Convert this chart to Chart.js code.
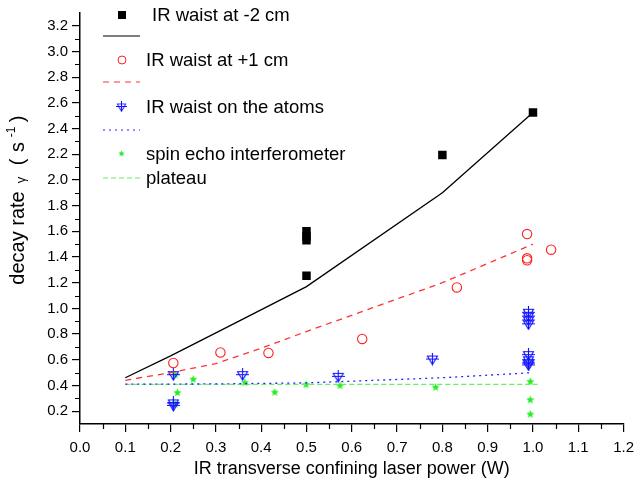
<!DOCTYPE html>
<html>
<head>
<meta charset="utf-8">
<script src="https://cdn.jsdelivr.net/npm/chart.js@4.4.1/dist/chart.umd.min.js"></script>
<style>
  body { margin: 0; background: #fff; }
</style>
</head>
<body>
<canvas id="decayChart" width="641" height="486"></canvas>
<script>
// measured points
const waistM2X = [0.5, 0.5, 0.5, 0.5, 0.8, 1.0];
const waistM2Y = [1.60, 1.56, 1.53, 1.255, 2.195, 2.525];
const waistP1X = [0.206, 0.31, 0.416, 0.623, 0.832, 0.987, 0.987, 0.987, 1.04];
const waistP1Y = [0.575, 0.657, 0.653, 0.762, 1.163, 1.579, 1.39, 1.375, 1.457];
const atomsX = [0.206, 0.206, 0.206, 0.359, 0.57, 0.778, 0.99, 0.99, 0.99, 0.99, 0.99, 0.99, 0.99, 0.99];
const atomsY = [0.484, 0.264, 0.245, 0.484, 0.471, 0.606, 0.97, 0.94, 0.91, 0.88, 0.64, 0.60, 0.575, 0.56];
const echoX = [0.21, 0.215, 0.21, 0.25, 0.364, 0.43, 0.499, 0.574, 0.785, 0.994, 0.994, 0.994];
const echoY = [0.484, 0.346, 0.256, 0.45, 0.424, 0.349, 0.409, 0.401, 0.388, 0.432, 0.29, 0.178];

// model curves
const fitM2X = [0.1, 0.2, 0.3, 0.5, 0.8, 1.0];
const fitM2Y = [0.46, 0.63, 0.81, 1.17, 1.90, 2.525];
const fitP1X = [0.1, 0.2, 0.3, 0.4, 0.5, 0.65, 0.8, 1.0];
const fitP1Y = [0.44, 0.50, 0.57, 0.69, 0.82, 1.01, 1.20, 1.50];
const fitAtomsX = [0.1, 0.3, 0.5, 0.65, 0.8, 1.0];
const fitAtomsY = [0.41, 0.412, 0.42, 0.44, 0.46, 0.50];
const plateauX = [0.1, 1.01];
const plateauY = [0.409, 0.409];

const xTicks = [0, 0.1, 0.2, 0.3, 0.4, 0.5, 0.6, 0.7, 0.8, 0.9, 1.0, 1.1, 1.2];
const yTicks = [0.2, 0.4, 0.6, 0.8, 1.0, 1.2, 1.4, 1.6, 1.8, 2.0, 2.2, 2.4, 2.6, 2.8, 3.0, 3.2];

const FONT = "'Liberation Sans', Arial, sans-serif";

function pts(xs, ys) {
    return xs.map((x, i) => ({ x: x, y: ys[i] }));
}

function makeTriangle() {
    const c = document.createElement('canvas');
    c.width = 13; c.height = 13;
    const g = c.getContext('2d');
    g.strokeStyle = '#1010ff';
    g.lineWidth = 1.1;
    g.beginPath();
    g.moveTo(1.5, 3.5); g.lineTo(11.5, 3.5); g.lineTo(6.5, 12); g.closePath();
    g.moveTo(0, 6.5); g.lineTo(13, 6.5);
    g.moveTo(6.5, 0); g.lineTo(6.5, 12);
    g.stroke();
    return c;
}

function makeStar() {
    const c = document.createElement('canvas');
    c.width = 9; c.height = 9;
    const g = c.getContext('2d');
    g.fillStyle = '#22ee22';
    g.beginPath();
    for (let i = 0; i < 10; i++) {
        const r = i % 2 === 0 ? 4.2 : 1.9;
        const a = -Math.PI / 2 + i * Math.PI / 5;
        g.lineTo(4.5 + r * Math.cos(a), 4.8 + r * Math.sin(a));
    }
    g.closePath();
    g.fill();
    return c;
}

const triImg = makeTriangle();
const starImg = makeStar();

const legendItems = [
    { label: 'IR waist at -2 cm', mark: 'square', y: 15, tx: 152 },
    { line: '#000', dash: [], y: 36 },
    { label: 'IR waist at +1 cm', mark: 'circle', y: 60, tx: 146 },
    { line: '#ff3333', dash: [6, 5], y: 82 },
    { label: 'IR waist on the atoms', mark: 'tri', y: 107, tx: 146 },
    { line: '#2222ff', dash: [2, 4], y: 130 },
    { label: 'spin echo interferometer', mark: 'star', y: 154, tx: 146 },
    { line: '#66ee66', dash: [5, 3], y: 178, label: 'plateau', tx: 146 }
];

// pieces of the rotated y title: text, size, position along the axis, offset across it
const yTitleParts = [
    { t: 'decay rate', size: 20, at: 238, off: 0 },
    { t: '\u03b3', size: 13, at: 180, off: 1 },
    { t: '(', size: 20, at: 162, off: 0 },
    { t: 's', size: 20, at: 147, off: 0 },
    { t: '-1', size: 12, at: 132, off: -9 },
    { t: ')', size: 20, at: 119, off: 0 }
];

const decorations = {
    id: 'decorations',
    afterDraw(chart) {
        const ctx = chart.ctx;
        const xs = chart.scales.x, ys = chart.scales.y;
        const area = chart.chartArea;
        ctx.save();
        // minor ticks
        ctx.strokeStyle = '#000';
        ctx.lineWidth = 1.2;
        ctx.beginPath();
        for (let v = 0.05; v < 1.2; v += 0.1) {
            const px = Math.round(xs.getPixelForValue(v)) + 0.5;
            ctx.moveTo(px, area.bottom); ctx.lineTo(px, area.bottom + 5);
        }
        for (let v = 0.3; v < 3.3; v += 0.2) {
            const py = Math.round(ys.getPixelForValue(v)) + 0.5;
            ctx.moveTo(area.left, py); ctx.lineTo(area.left - 5, py);
        }
        ctx.stroke();

        // y title
        ctx.save();
        ctx.translate(24, 0);
        ctx.rotate(-Math.PI / 2);
        ctx.fillStyle = '#000';
        ctx.textAlign = 'center';
        ctx.textBaseline = 'alphabetic';
        yTitleParts.forEach(p => {
            ctx.font = p.size + 'px ' + FONT;
            ctx.fillText(p.t, -p.at, p.off);
        });
        ctx.restore();

        // legend
        ctx.font = '18.5px ' + FONT;
        ctx.textBaseline = 'middle';
        legendItems.forEach(it => {
            if (it.line) {
                ctx.strokeStyle = it.line;
                ctx.lineWidth = 1.2;
                ctx.setLineDash(it.dash);
                ctx.beginPath();
                ctx.moveTo(103, it.y); ctx.lineTo(140, it.y);
                ctx.stroke();
                ctx.setLineDash([]);
            }
            if (it.mark === 'square') {
                ctx.fillStyle = '#000';
                ctx.fillRect(118, it.y - 4, 8, 8);
            } else if (it.mark === 'circle') {
                ctx.strokeStyle = '#ff2222';
                ctx.lineWidth = 1;
                ctx.beginPath();
                ctx.arc(122, it.y, 4, 0, Math.PI * 2);
                ctx.stroke();
            } else if (it.mark === 'tri') {
                ctx.drawImage(triImg, 116, it.y - 6, 11, 11);
            } else if (it.mark === 'star') {
                ctx.drawImage(starImg, 118, it.y - 4, 7, 7);
            }
            if (it.label) {
                ctx.fillStyle = '#000';
                ctx.fillText(it.label, it.tx, it.y + 1);
            }
        });
        ctx.restore();
    }
};

const lineStyle = { showLine: true, pointRadius: 0, borderWidth: 1.3, fill: false, tension: 0 };

new Chart(document.getElementById('decayChart').getContext('2d'), {
    type: 'scatter',
    data: {
        datasets: [
            Object.assign({ label: 'fit -2 cm', data: pts(fitM2X, fitM2Y), borderColor: '#000' }, lineStyle),
            Object.assign({ label: 'fit +1 cm', data: pts(fitP1X, fitP1Y), borderColor: '#ff3333', borderDash: [6, 5] }, lineStyle),
            Object.assign({ label: 'fit atoms', data: pts(fitAtomsX, fitAtomsY), borderColor: '#2222ff', borderDash: [2, 4] }, lineStyle),
            Object.assign({ label: 'plateau', data: pts(plateauX, plateauY), borderColor: '#66ee66', borderDash: [5, 3] }, lineStyle),
            {
                label: 'IR waist at -2 cm', data: pts(waistM2X, waistM2Y),
                pointStyle: 'rect', pointRadius: 6, backgroundColor: '#000', borderColor: '#000', borderWidth: 0
            },
            {
                label: 'IR waist at +1 cm', data: pts(waistP1X, waistP1Y),
                pointStyle: 'circle', pointRadius: 4.7, backgroundColor: 'rgba(0,0,0,0)', borderColor: '#ff2222', borderWidth: 1.1
            },
            {
                label: 'IR waist on the atoms', data: pts(atomsX, atomsY),
                pointStyle: triImg
            },
            {
                label: 'spin echo interferometer', data: pts(echoX, echoY),
                pointStyle: starImg
            }
        ]
    },
    options: {
        responsive: false,
        animation: false,
        layout: { padding: { left: 0, right: 7, top: 13, bottom: 0 } },
        plugins: { legend: { display: false }, tooltip: { enabled: false } },
        scales: {
            x: {
                type: 'linear', min: 0, max: 1.2,
                afterBuildTicks: s => { s.ticks = xTicks.map(v => ({ value: v })); },
                afterFit: s => { s.height = 62; },
                ticks: { color: '#000', font: { size: 15, family: FONT }, padding: 7, callback: v => v.toFixed(1), maxRotation: 0 },
                grid: { display: true, drawOnChartArea: false, drawTicks: true, tickLength: 8, color: '#000', lineWidth: 1.2 },
                border: { display: true, color: '#000', width: 1.5 },
                title: { display: true, text: 'IR transverse confining laser power (W)', color: '#000', font: { size: 18, family: FONT }, padding: { top: 4, bottom: 6 } }
            },
            y: {
                type: 'linear', min: 0.1, max: 3.3,
                afterBuildTicks: s => { s.ticks = yTicks.map(v => ({ value: v })); },
                afterFit: s => { s.width = 80; },
                ticks: { color: '#000', font: { size: 15, family: FONT }, padding: 4, callback: v => v.toFixed(1) },
                grid: { display: true, drawOnChartArea: false, drawTicks: true, tickLength: 8, color: '#000', lineWidth: 1.2 },
                border: { display: true, color: '#000', width: 1.5 },
                title: { display: false }
            }
        }
    },
    plugins: [decorations]
});
</script>
</body>
</html>
